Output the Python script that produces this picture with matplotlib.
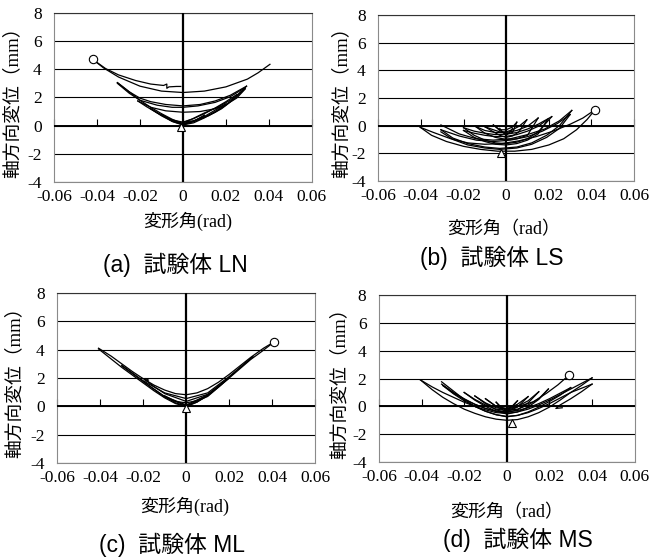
import matplotlib
matplotlib.use("Agg")
import matplotlib.pyplot as plt

# axis ticks / labels shared by the four panels
x_ticks = [-0.06, -0.04, -0.02, 0.0, 0.02, 0.04, 0.06]
x_tick_labels = ["-0.06", "-0.04", "-0.02", "0", "0.02", "0.04", "0.06"]
y_ticks = [-4, -2, 0, 2, 4, 6, 8]
y_tick_labels = ["-4", "-2", "0", "2", "4", "6", "8"]

captions = ["(a)  試験体 LN", "(b)  試験体 LS", "(c)  試験体 ML", "(d)  試験体 MS"]
xlabels = ["変形角(rad)", "変形角（rad）", "変形角(rad)", "変形角（rad）"]
ylabel = "軸方向変位（mm）"

# (a) LN  -- branches of the hysteresis curves (rad, mm)
ln_x = [
    [0.0405, 0.035, 0.03, 0.02, 0.01, 0.0, -0.01, -0.02, -0.03, -0.037, -0.042],
    [-0.042, -0.036, -0.03, -0.022, -0.015, -0.009, -0.0075, -0.0075, -0.0065, -0.003, -0.001],
    [-0.0305, -0.025, -0.02, -0.015, -0.008, 0.0, 0.008, 0.015, 0.022, 0.0296],
    [-0.0305, -0.025, -0.02, -0.012, -0.005, 0.0, 0.007, 0.015, 0.022, 0.029],
    [0.0296, 0.025, 0.02, 0.015, 0.01, 0.005, 0.0, -0.005, -0.01, -0.015, -0.02, -0.025, -0.0305],
    [-0.021, -0.015, -0.008, 0.0, 0.008, 0.015, 0.02, 0.025, 0.029],
    [0.029, 0.024, 0.018, 0.012, 0.006, 0.0, -0.006, -0.012, -0.017, -0.021],
    [-0.015, -0.01, -0.005, 0.0, 0.005, 0.01, 0.015, 0.02],
    [0.02, 0.015, 0.01, 0.005, 0.0, -0.005, -0.01, -0.015],
    [-0.01, -0.005, 0.0, 0.005, 0.01],
    [0.01, 0.005, 0.0, -0.005, -0.01],
    [0.025, 0.02, 0.015, 0.01, 0.005, 0.0],
    [0.028, 0.022, 0.016, 0.01, 0.004, 0.0],
]
ln_y = [
    [4.35, 3.75, 3.3, 2.75, 2.45, 2.35, 2.45, 2.8, 3.45, 4.1, 4.7],
    [4.7, 4.05, 3.6, 3.2, 2.95, 2.85, 2.95, 2.65, 2.75, 2.78, 2.78],
    [3.05, 2.4, 1.95, 1.7, 1.5, 1.4, 1.5, 1.75, 2.15, 2.8],
    [3.0, 2.3, 1.8, 1.45, 1.3, 1.3, 1.4, 1.65, 2.05, 2.7],
    [2.8, 2.1, 1.45, 0.95, 0.6, 0.3, 0.15, 0.45, 0.85, 1.3, 1.8, 2.4, 3.05],
    [1.75, 1.3, 1.05, 0.95, 1.0, 1.2, 1.5, 1.95, 2.6],
    [2.65, 1.9, 1.2, 0.7, 0.35, 0.1, 0.4, 0.9, 1.35, 1.75],
    [1.2, 0.75, 0.4, 0.25, 0.35, 0.65, 1.1, 1.55],
    [1.5, 1.0, 0.55, 0.2, 0.05, 0.3, 0.7, 1.2],
    [0.8, 0.35, 0.15, 0.3, 0.7],
    [0.75, 0.3, 0.05, 0.3, 0.8],
    [2.2, 1.7, 1.25, 0.85, 0.5, 0.25],
    [2.5, 1.8, 1.3, 0.9, 0.45, 0.2],
]
ln_start = (-0.001, -0.1)
ln_end = (-0.042, 4.7)

# (b) LS
ls_x = [
    [-0.0403, -0.035, -0.028, -0.02, -0.012, -0.004, 0.004, 0.012, 0.02, 0.027, 0.033, 0.038, 0.0417],
    [0.0417, 0.036, 0.03, 0.022, 0.014, 0.006, -0.002, -0.01, -0.018, -0.026, -0.034, -0.0403],
    [-0.0306, -0.025, -0.018, -0.01, -0.003, 0.005, 0.012, 0.019, 0.025, 0.0308],
    [0.0308, 0.025, 0.018, 0.01, 0.002, -0.006, -0.014, -0.022, -0.0306],
    [-0.0306, -0.025, -0.018, -0.01, -0.003, 0.005, 0.012, 0.019, 0.025, 0.030],
    [0.030, 0.024, 0.017, 0.01, 0.002, -0.006, -0.014, -0.022, -0.0306],
    [-0.02, -0.015, -0.01, -0.005, 0.0, 0.005, 0.01, 0.015, 0.0214],
    [0.0214, 0.015, 0.01, 0.005, 0.0, -0.005, -0.01, -0.015, -0.02],
    [-0.02, -0.015, -0.01, -0.005, 0.0, 0.005, 0.01, 0.015, 0.0195],
    [0.0195, 0.015, 0.01, 0.005, 0.0, -0.005, -0.01, -0.015, -0.02],
    [-0.0145, -0.01, -0.005, 0.0, 0.005, 0.01, 0.015],
    [0.015, 0.01, 0.005, 0.0, -0.005, -0.01, -0.0145],
    [-0.01, -0.006, -0.003, 0.0, 0.003, 0.006, 0.0097],
    [0.0097, 0.006, 0.003, 0.0, -0.003, -0.006, -0.01],
    [-0.006, -0.003, 0.0, 0.003, 0.005],
    [0.005, 0.003, 0.0, -0.003, -0.006],
    [-0.003, -0.0015, 0.0, 0.0015, 0.003],
]
ls_y = [
    [-0.12, -0.7, -1.15, -1.5, -1.72, -1.85, -1.85, -1.72, -1.4, -0.95, -0.3, 0.45, 1.15],
    [1.15, 0.55, 0.1, -0.4, -0.8, -1.1, -1.3, -1.35, -1.25, -0.95, -0.5, -0.12],
    [-0.3, -0.9, -1.3, -1.55, -1.65, -1.55, -1.25, -0.7, 0.0, 1.1],
    [1.1, 0.35, -0.25, -0.65, -0.95, -1.05, -0.95, -0.6, 0.05],
    [-0.45, -1.0, -1.4, -1.62, -1.72, -1.62, -1.35, -0.85, -0.2, 0.8],
    [0.8, 0.15, -0.4, -0.8, -1.05, -1.15, -1.05, -0.75, -0.3],
    [-0.15, -0.7, -1.05, -1.25, -1.3, -1.2, -0.95, -0.45, 0.65],
    [0.65, 0.1, -0.25, -0.5, -0.62, -0.65, -0.55, -0.4, -0.15],
    [-0.35, -0.85, -1.15, -1.35, -1.4, -1.3, -1.05, -0.6, 0.45],
    [0.45, -0.05, -0.4, -0.65, -0.78, -0.8, -0.7, -0.55, -0.35],
    [-0.05, -0.55, -0.85, -1.0, -0.95, -0.7, 0.55],
    [0.55, -0.05, -0.35, -0.5, -0.5, -0.35, -0.05],
    [-0.08, -0.45, -0.7, -0.85, -0.75, -0.45, 0.42],
    [0.42, -0.05, -0.3, -0.45, -0.45, -0.3, -0.08],
    [0.05, -0.35, -0.6, -0.5, 0.25],
    [0.25, -0.1, -0.3, -0.3, 0.05],
    [-0.2, -0.5, -0.7, -0.5, -0.2],
]
ls_start = (-0.0024, -2.0)
ls_end = (0.0417, 1.15)

# (c) ML
ml_x = [
    [-0.0408, -0.035, -0.03, -0.025, -0.02, -0.015, -0.01, -0.005, 0.0],
    [0.0, 0.005, 0.01, 0.015, 0.02, 0.025, 0.03, 0.035, 0.0411],
    [0.0411, 0.036, 0.03, 0.025, 0.02, 0.015, 0.01, 0.005, 0.0, -0.005, -0.01, -0.015,
     -0.02, -0.025, -0.03, -0.035, -0.0408],
    [-0.03, -0.02, -0.01, 0.0, 0.01, 0.02, 0.031],
    [0.031, 0.02, 0.01, 0.0, -0.01, -0.02, -0.03],
    [-0.019, -0.0185, -0.015, -0.01, 0.0, 0.01, 0.02],
    [0.02, 0.01, 0.0, -0.01, -0.02, -0.0175, -0.019],
    [-0.01, -0.005, 0.0, 0.005, 0.01],
    [0.01, 0.005, 0.0, -0.005, -0.01],
]
ml_y = [
    [4.05, 3.35, 2.75, 2.2, 1.65, 1.1, 0.6, 0.2, -0.02],
    [-0.02, 0.3, 0.75, 1.35, 2.0, 2.65, 3.3, 3.85, 4.56],
    [4.56, 4.1, 3.45, 2.85, 2.25, 1.7, 1.25, 0.95, 0.82, 0.9, 1.15, 1.5,
     1.95, 2.45, 3.0, 3.55, 4.1],
    [2.9, 1.8, 0.95, 0.55, 0.95, 2.1, 3.5],
    [3.5, 2.05, 0.8, 0.1, 0.7, 1.75, 2.85],
    [1.9, 1.8, 1.4, 0.9, 0.35, 0.85, 2.0],
    [2.0, 0.7, 0.05, 0.65, 1.75, 1.85, 1.95],
    [0.75, 0.35, 0.25, 0.4, 0.8],
    [0.8, 0.3, 0.02, 0.25, 0.7],
]
ml_start = (0.0, -0.12)
ml_end = (0.0411, 4.56)

# (d) MS
ms_x = [
    [-0.0405, -0.035, -0.03, -0.025, -0.02, -0.015, -0.01, -0.005, 0.0, 0.005, 0.01, 0.015,
     0.02, 0.025, 0.03, 0.035, 0.040],
    [0.040, 0.035, 0.03, 0.025, 0.02, 0.015, 0.01, 0.005, 0.0, -0.005, -0.01, -0.015,
     -0.02, -0.025, -0.03, -0.035, -0.0405],
    [-0.0306, -0.025, -0.02, -0.015, -0.01, -0.005, 0.0, 0.005, 0.01, 0.015, 0.02, 0.025,
     0.03, 0.035, 0.040],
    [0.040, 0.035, 0.03, 0.025, 0.023, 0.026],
    [0.0, -0.005, -0.01, -0.015, -0.02, -0.025, -0.0306],
    [0.0, 0.005, 0.0124, 0.0186, 0.024, 0.0292],
    [-0.03, -0.025, -0.02, -0.015, -0.01, -0.005, 0.0, 0.005, 0.01, 0.015, 0.02, 0.025, 0.03],
    [0.03, 0.025, 0.02, 0.015, 0.01, 0.005, 0.0, -0.005, -0.01, -0.015, -0.02, -0.025, -0.03],
    [-0.02, -0.015, -0.01, -0.005, 0.0, 0.005, 0.01, 0.015, 0.0195],
    [0.0195, 0.015, 0.01, 0.005, 0.0, -0.005, -0.01, -0.015, -0.02],
    [-0.015, -0.01, -0.005, 0.0, 0.005, 0.01, 0.015],
    [0.015, 0.01, 0.005, 0.0, -0.005, -0.01, -0.015],
    [-0.01, -0.005, 0.0, 0.005, 0.01],
    [0.01, 0.005, 0.0, -0.005, -0.01],
    [-0.005, -0.0025, 0.0, 0.0025, 0.005],
    [0.005, 0.0025, 0.0, -0.0025, -0.005],
]
ms_y = [
    [1.9, 1.2, 0.65, 0.2, -0.2, -0.5, -0.75, -0.92, -1.0, -0.95, -0.75, -0.45,
     -0.05, 0.45, 1.0, 1.5, 2.05],
    [2.05, 1.65, 1.25, 0.85, 0.45, 0.1, -0.2, -0.4, -0.5, -0.45, -0.25, 0.0,
     0.3, 0.65, 1.0, 1.4, 1.9],
    [1.77, 1.1, 0.5, 0.0, -0.35, -0.6, -0.72, -0.65, -0.45, -0.15, 0.2, 0.6,
     1.0, 1.3, 1.6],
    [1.6, 1.05, 0.55, 0.1, -0.15, -0.1],
    [-0.45, -0.35, -0.15, 0.15, 0.55, 1.0, 1.6],
    [-0.3, -0.02, 0.33, 0.94, 1.55, 2.25],
    [1.5, 0.9, 0.4, 0.0, -0.35, -0.6, -0.75, -0.65, -0.4, -0.05, 0.35, 0.8, 1.35],
    [1.35, 0.95, 0.55, 0.2, -0.1, -0.3, -0.4, -0.35, -0.15, 0.15, 0.5, 0.95, 1.5],
    [1.0, 0.45, 0.0, -0.35, -0.55, -0.4, -0.05, 0.5, 1.25],
    [1.25, 0.55, 0.1, -0.2, -0.3, -0.2, 0.1, 0.5, 1.0],
    [0.75, 0.2, -0.25, -0.45, -0.25, 0.25, 1.05],
    [1.05, 0.4, 0.0, -0.2, -0.1, 0.25, 0.75],
    [0.55, 0.0, -0.4, -0.05, 0.7],
    [0.7, 0.15, -0.15, 0.0, 0.55],
    [0.3, -0.1, -0.3, 0.0, 0.4],
    [0.4, 0.0, -0.2, -0.1, 0.3],
]
ms_start = (0.0023, -1.17)
ms_end = (0.0292, 2.25)

panels = [
    (ln_x, ln_y, ln_start, ln_end),
    (ls_x, ls_y, ls_start, ls_end),
    (ml_x, ml_y, ml_start, ml_end),
    (ms_x, ms_y, ms_start, ms_end),
]

# axes rectangles [left, bottom, width, height] in figure fraction
rects = [
    [0.083, 0.675, 0.396, 0.302],
    [0.581, 0.677, 0.393, 0.296],
    [0.088, 0.173, 0.396, 0.304],
    [0.582, 0.175, 0.393, 0.298],
]
caption_pos = [(0.269, 0.527), (0.755, 0.539), (0.264, 0.027), (0.796, 0.036)]
xlabel_pos = [(0.289, 0.605), (0.773, 0.589), (0.284, 0.095), (0.779, 0.084)]
ylabel_x = [0.020, 0.525, 0.023, 0.522]

serif_jp = ["Liberation Serif", "Noto Sans CJK JP"]
sans_jp = ["Liberation Sans", "Noto Sans CJK JP"]

fig = plt.figure(figsize=(6.51, 5.6), dpi=100)

for i, (xs, ys, start, end) in enumerate(panels):
    ax = fig.add_axes(rects[i])
    ax.set_xlim(-0.06, 0.06)
    ax.set_ylim(-4, 8)
    ax.set_xticks(x_ticks)
    ax.set_xticklabels(x_tick_labels, family="Liberation Serif", fontsize=12.5)
    ax.set_yticks(y_ticks)
    ax.set_yticklabels(y_tick_labels, family="Liberation Serif", fontsize=12.5)
    ax.tick_params(axis="x", length=0, pad=5)
    ax.tick_params(axis="y", length=0, pad=9)
    ax.grid(axis="y", color="black", linewidth=0.8)
    for s in ["left", "right", "bottom"]:
        ax.spines[s].set_color("#8a8a8a")
    ax.spines["top"].set_color("#333333")
    ax.axhline(0, color="black", linewidth=1.4, zorder=3)
    ax.axvline(0, color="black", linewidth=1.6, zorder=3)

    # tick marks sit on the y=0 line, pointing up
    sec = ax.secondary_xaxis(1 / 3)
    sec.set_xticks(x_ticks)
    sec.tick_params(direction="in", length=5, width=0.8, labelbottom=False)
    sec.spines["bottom"].set_visible(False)

    for bx, by in zip(xs, ys):
        ax.plot(bx, by, color="black", linewidth=0.9, zorder=4)
    ax.plot(start[0], start[1], marker="^", markersize=6, markerfacecolor="white",
            markeredgecolor="black", markeredgewidth=0.8, zorder=5)
    ax.plot(end[0], end[1], marker="o", markersize=6, markerfacecolor="white",
            markeredgecolor="black", markeredgewidth=0.8, zorder=5)

    r = rects[i]
    fig.text(ylabel_x[i], r[1] + r[3] / 2, ylabel, family=serif_jp, fontsize=13.5,
             rotation=90, ha="center", va="center")
    fig.text(xlabel_pos[i][0], xlabel_pos[i][1], xlabels[i], family=serif_jp,
             fontsize=13, ha="center", va="center")
    fig.text(caption_pos[i][0], caption_pos[i][1], captions[i], family=sans_jp,
             fontsize=16.5, ha="center", va="center")

fig.savefig("out.png", dpi=100)
